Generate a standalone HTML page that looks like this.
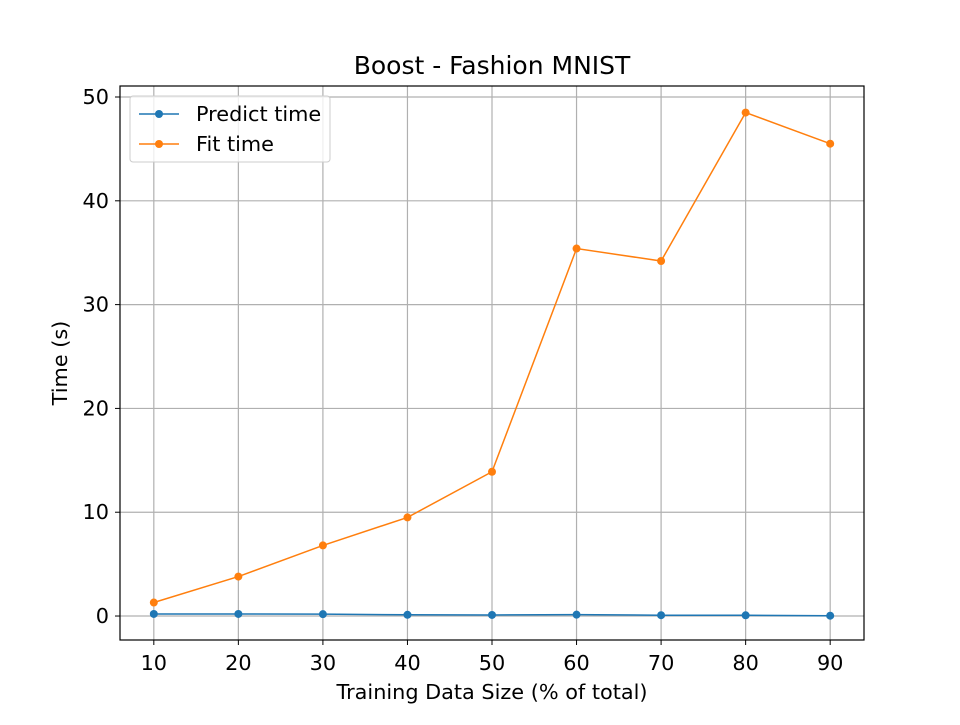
<!DOCTYPE html>
<html><head><meta charset="utf-8"><style>
body{margin:0;background:#fff;}
svg text{font-family:"DejaVu Sans","Liberation Sans",sans-serif;}
</style></head><body>
<svg id="chart" width="960" height="720" xmlns="http://www.w3.org/2000/svg">
<rect width="960" height="720" fill="#fff"/>
<g id="grid"></g><g id="series"></g><g id="axes"></g>
<text x="492" y="74" font-size="25" text-anchor="middle">Boost - Fashion MNIST</text>
<text x="492" y="699" font-size="20.8" text-anchor="middle">Training Data Size (% of total)</text>
<text transform="translate(67,363) rotate(-90)" font-size="20.8" text-anchor="middle">Time (s)</text>
<g>
<rect x="130" y="96" width="200" height="66" rx="3" fill="#fff" fill-opacity="0.8" stroke="#ccc"/>
<line x1="139" y1="114" x2="179" y2="114" stroke="#1f77b4" stroke-width="1.5"/><circle cx="159" cy="114" r="4" fill="#1f77b4"/>
<text x="196" y="121" font-size="20.8">Predict time</text>
<line x1="139" y1="144" x2="179" y2="144" stroke="#ff7f0e" stroke-width="1.5"/><circle cx="159" cy="144" r="4" fill="#ff7f0e"/>
<text x="196" y="151" font-size="20.8">Fit time</text>
</g>
</svg>
<script>
const categories=[10,20,30,40,50,60,70,80,90];
const predictTime=[0.2,0.2,0.18,0.12,0.1,0.13,0.08,0.07,0.03];
const fitTime=[1.3,3.8,6.8,9.5,13.9,35.4,34.2,48.5,45.5];
const yTicks=[0,10,20,30,40,50];
const L=120,R=864,T=86,B=640;
const xmin=6,xmax=94;
const ymin=-2.31,ymax=51.06;
const xs=v=>L+(v-xmin)/(xmax-xmin)*(R-L);
const ys=v=>B-(v-ymin)/(ymax-ymin)*(B-T);
const NS="http://www.w3.org/2000/svg";
function mk(p,tag,a){const e=document.createElementNS(NS,tag);for(const k in a)e.setAttribute(k,a[k]);p.appendChild(e);return e;}
const grid=document.getElementById('grid'),axes=document.getElementById('axes'),ser=document.getElementById('series');
categories.forEach(c=>{const x=xs(c);
const g=mk(grid,'line',{x1:x,x2:x,y1:T,y2:B,stroke:'#b0b0b0','stroke-width':1.2});


mk(axes,'line',{x1:x,x2:x,y1:B,y2:B+5,stroke:'#000'});
const t=mk(axes,'text',{x:x,y:B+30,'font-size':20.8,'text-anchor':'middle'});t.textContent=c;

});
yTicks.forEach(v=>{const y=ys(v);
const g=mk(grid,'line',{x1:L,x2:R,y1:y,y2:y,stroke:'#b0b0b0','stroke-width':1.2});


mk(axes,'line',{x1:L-5,x2:L,y1:y,y2:y,stroke:'#000'});
const t=mk(axes,'text',{x:L-11,y:y+7,'font-size':20.8,'text-anchor':'end'});t.textContent=v;

});
const fr=mk(axes,'rect',{x:L,y:T,width:R-L,height:B-T,fill:'none',stroke:'#000','stroke-width':1.2});


[[predictTime,'#1f77b4','predict-time'],[fitTime,'#ff7f0e','fit-time']].forEach(([d,c,n])=>{
const pl=mk(ser,'polyline',{points:d.map((v,i)=>xs(categories[i])+','+ys(v)).join(' '),fill:'none',stroke:c,'stroke-width':1.5});


d.forEach((v,i)=>{const p=mk(ser,'circle',{cx:xs(categories[i]),cy:ys(v),r:4,fill:c});

});});
</script>
</body></html>
